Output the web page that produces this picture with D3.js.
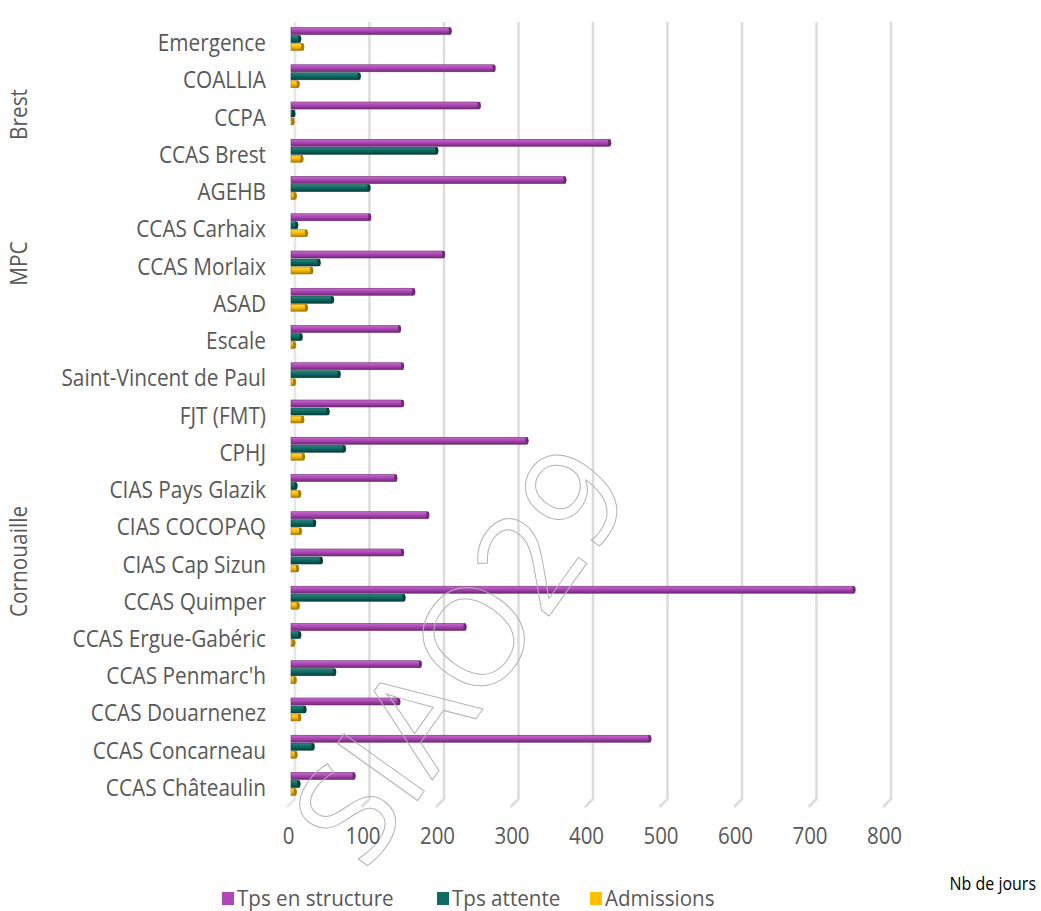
<!DOCTYPE html>
<html><head><meta charset="utf-8">
<script src="https://cdn.jsdelivr.net/npm/d3@7/dist/d3.min.js"></script>
<style>
body{margin:0;background:#fff;}
svg{display:block;}
text{font-family:"Open Sans",sans-serif;}
</style></head>
<body><svg id="c" width="1041" height="911"></svg>
<script>
const categories = ["Emergence","COALLIA","CCPA","CCAS Brest","AGEHB","CCAS Carhaix","CCAS Morlaix","ASAD","Escale","Saint-Vincent de Paul","FJT (FMT)","CPHJ","CIAS Pays Glazik","CIAS COCOPAQ","CIAS Cap Sizun","CCAS Quimper","CCAS Ergue-Gabéric","CCAS Penmarc'h","CCAS Douarnenez","CCAS Concarneau","CCAS Châteaulin"];
const groups = [
  {name:"Brest", first:"Emergence", last:"AGEHB"},
  {name:"MPC", first:"CCAS Carhaix", last:"ASAD"},
  {name:"Cornouaille", first:"Escale", last:"CCAS Châteaulin"}
];
const series = ["Tps en structure","Tps attente","Admissions"];
const tpsStructure = [213,272,252,427,367,105,204,164,145,149,149,316,140,183,149,755,233,173,144,481,84];
const tpsAttente   = [11,91,3,195,104,7,37,55,13,64,49,71,6,31,40,151,11,58,18,29,10];
const admissions   = [15,9,2,14,5,20,27,20,4,4,15,16,11,12,8,9,3,5,11,6,5];
const xTicks = [0,100,200,300,400,500,600,700,800];
const axisTitle = "Nb de jours";
const watermark = "SIAO29";

const colors = {
  "Tps en structure": {main:"#ad47b6", light:"#c46ccc", dark:"#6e2a75"},
  "Tps attente": {main:"#0f6b64", light:"#2a8880", dark:"#06403b"},
  "Admissions": {main:"#ffc000", light:"#ffd54a", dark:"#a87c00"}
};
const values = {"Tps en structure":tpsStructure,"Tps attente":tpsAttente,"Admissions":admissions};

const svg = d3.select("#c");
const x = d3.scaleLinear().domain([0,800]).range([291,887]);
const y = d3.scaleBand().domain(categories).range([24.4,806.6]);
const ys = d3.scaleBand().domain(series).range([-16,8]);
const yc = c => y(c)+y.bandwidth()/2;
const VS = 1.1; // vertical stretch of the reference's text

// gradients
const defs = svg.append("defs");
series.forEach((s,i)=>{
  const g = defs.append("linearGradient").attr("id","g"+i).attr("x1",0).attr("y1",0).attr("x2",0).attr("y2",1);
  g.append("stop").attr("offset","0%").attr("stop-color",colors[s].light);
  g.append("stop").attr("offset","45%").attr("stop-color",colors[s].main);
  g.append("stop").attr("offset","100%").attr("stop-color",colors[s].dark);
});

// gridlines (3D back wall)
const grid = svg.append("g");
xTicks.forEach(v=>{
  const gx = x(v)+4;
  grid.append("path")
    .attr("d",`M${gx},22 L${gx},799 L${gx-8},807`)
    .attr("fill","none").attr("stroke", v===0?"#e6e6e6":"#dcdcdc").attr("stroke-width",2.5);
});

// bars
const barG = svg.append("g");
series.forEach((s,i)=>{
  const vals = values[s];
  categories.forEach((c,j)=>{
    const v = vals[j];
    const top = yc(c)+ys(s)+0.5;
    const h = ys.bandwidth()-1;
    const x0 = x(0), x1 = x(v);
    barG.append("rect").attr("x",x0).attr("y",top).attr("width",Math.max(1,x1-x0)).attr("height",h)
      .attr("fill",`url(#g${i})`).attr("stroke",colors[s].dark).attr("stroke-width",0.6);
    barG.append("path")
      .attr("d",`M${x1-1},${top} L${x1+1.5},${top} Q${x1+3},${top+h/2} ${x1+1.5},${top+h} L${x1-1},${top+h} Z`)
      .attr("fill",colors[s].dark);
  });
});

// watermark (outlined, over the plot)
svg.append("text").attr("transform","translate(462,655) rotate(-54.5)")
  .attr("text-anchor","middle").attr("dy","0.35em")
  .attr("font-family","'Liberation Sans',sans-serif").attr("font-size",138)
  .attr("fill","none").attr("stroke","#b4b4b4").attr("stroke-width",1)
  .text(watermark);

// category labels
svg.append("g").selectAll("text").data(categories).join("text")
  .attr("transform",c=>`translate(266,${yc(c)}) scale(1,${VS})`)
  .attr("dy","0.35em").attr("text-anchor","end")
  .attr("font-size",20.8).attr("fill","#595959").text(d=>d);

// group labels
groups.forEach(g=>{
  const cy = (yc(g.first)+yc(g.last))/2 - 3;
  svg.append("text").attr("transform",`translate(27,${cy}) rotate(-90) scale(1,${VS})`)
    .attr("text-anchor","middle").attr("font-size",20.8).attr("fill","#595959").text(g.name);
});

// x axis tick labels
svg.append("g").selectAll("text").data(xTicks).join("text")
  .attr("transform",v=>`translate(${x(v)-2.5},836) scale(1,1.15)`)
  .attr("dy","0.35em").attr("text-anchor","middle")
  .attr("font-size",20.5).attr("fill","#595959").text(v=>d3.format("d")(v));

svg.append("text").attr("transform",`translate(1036,884) scale(1,${VS})`).attr("text-anchor","end").attr("dy","0.35em")
  .attr("font-size",16).attr("fill","#000").text(axisTitle);

// legend
const legX = [222,437,590];
series.forEach((s,i)=>{
  svg.append("rect").attr("x",legX[i]).attr("y",892).attr("width",12).attr("height",13).attr("fill",colors[s].main);
  svg.append("text").attr("transform",`translate(${legX[i]+15},898) scale(1,1.06)`).attr("dy","0.35em")
    .attr("font-size",20.6).attr("fill","#595959").text(s);
});
</script></body></html>
